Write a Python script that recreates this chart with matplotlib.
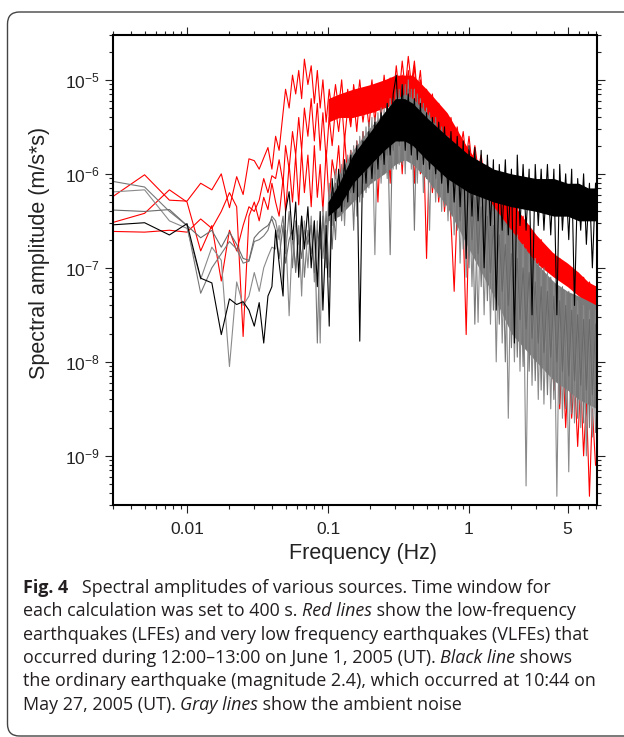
import numpy as np
import matplotlib
matplotlib.use("Agg")
import matplotlib.pyplot as plt
from matplotlib import font_manager
from matplotlib.patches import FancyBboxPatch
from matplotlib.transforms import IdentityTransform
from matplotlib.ticker import FixedLocator, FuncFormatter, NullFormatter

W, H = 624, 737

f_low = [0.0025, 0.005, 0.0075, 0.01, 0.0125, 0.015, 0.0175, 0.02,
         0.0225, 0.025, 0.0275, 0.03, 0.0325, 0.035, 0.0375, 0.04]
f_dense = [0.0425, 0.045, 0.048, 0.05, 0.053, 0.056, 0.059, 0.062, 0.065, 0.068,
           0.072, 0.076, 0.08, 0.084, 0.088, 0.092, 0.097, 0.102, 0.107, 0.113,
           0.119, 0.125, 0.131, 0.138, 0.145, 0.152, 0.16, 0.168, 0.177, 0.186,
           0.195, 0.205, 0.215, 0.226, 0.238, 0.25, 0.263, 0.276, 0.29, 0.305,
           0.32, 0.336, 0.353, 0.371, 0.39, 0.41, 0.43, 0.452, 0.475, 0.5,
           0.525, 0.55, 0.58, 0.61, 0.64, 0.67, 0.71, 0.745, 0.785, 0.825,
           0.865, 0.91, 0.955, 1.0, 1.05, 1.1, 1.16, 1.22, 1.28, 1.35,
           1.42, 1.49, 1.56, 1.64, 1.72, 1.81, 1.9, 2.0, 2.1, 2.2,
           2.3, 2.42, 2.54, 2.67, 2.8, 2.95, 3.1, 3.25, 3.4, 3.6,
           3.8, 4.0, 4.2, 4.4, 4.6, 4.85, 5.1, 5.35, 5.6, 5.9,
           6.2, 6.5, 6.8, 7.15, 7.5, 7.9]

# log10 spectral amplitude (m/s*s)
red1_low = [-6.32, -6.01, -6.28, -6.29, -6.10, -6.17, -6.00, -6.36,
            -6.03, -6.22, -5.84, -5.86, -5.95, -5.83, -5.72, -5.95]
red1 = [-5.60, -5.75, -5.35, -5.10, -5.30, -4.95, -5.15, -4.90, -5.20, -4.78,
        -5.05, -4.85, -5.25, -4.90, -5.30, -5.00, -5.45, -5.10, -5.35, -5.05,
        -5.30, -5.00, -5.40, -5.10, -5.45, -5.05, -5.30, -5.00, -5.35, -5.10,
        -5.25, -5.00, -5.35, -5.05, -5.30, -4.95, -5.25, -4.98, -5.20, -4.85,
        -5.15, -4.80, -5.10, -4.75, -5.05, -4.80, -5.15, -4.90, -5.30, -5.10,
        -5.40, -5.15, -5.45, -5.25, -5.55, -5.35, -5.60, -5.40, -5.65, -5.50,
        -5.75, -5.55, -5.85, -5.60, -5.90, -5.70, -5.95, -5.80, -6.05, -5.90,
        -6.15, -6.00, -6.25, -6.10, -6.30, -6.15, -6.40, -6.25, -6.50, -6.35,
        -6.60, -6.45, -6.70, -6.55, -6.80, -6.65, -6.85, -6.70, -6.90, -6.80,
        -6.95, -6.85, -7.00, -6.90, -7.05, -6.95, -7.10, -7.00, -7.15, -7.05,
        -7.20, -7.10, -7.25, -7.15, -7.30, -7.20]

red2_low = [-6.55, -6.42, -6.17, -6.30, -6.82, -6.55, -7.14, -6.60,
            -6.82, -6.55, -6.35, -6.40, -6.28, -6.05, -6.20, -6.02]
red2 = [-6.05, -5.85, -6.10, -5.70, -5.95, -5.55, -5.80, -5.40, -5.75, -5.30,
        -5.60, -5.20, -5.65, -5.25, -5.75, -5.35, -5.85, -5.40, -5.70, -5.30,
        -5.55, -5.25, -5.65, -5.30, -5.50, -5.20, -5.55, -5.15, -5.45, -5.20,
        -5.50, -5.15, -5.45, -5.10, -5.40, -5.05, -5.35, -5.00, -5.30, -5.05,
        -5.25, -4.95, -5.20, -4.90, -5.15, -4.85, -5.25, -5.00, -5.35, -5.20,
        -5.55, -5.30, -5.65, -5.40, -5.70, -5.50, -5.80, -5.60, -5.90, -5.70,
        -6.00, -5.80, -6.10, -5.90, -6.20, -6.00, -6.25, -6.10, -6.35, -6.20,
        -6.45, -6.30, -6.55, -6.35, -6.60, -6.40, -6.65, -6.45, -6.70, -6.55,
        -6.85, -6.70, -6.95, -6.80, -7.05, -6.90, -7.15, -7.00, -7.25, -7.10,
        -7.35, -7.20, -7.45, -7.30, -7.55, -7.40, -7.65, -7.50, -7.75, -7.60,
        -7.85, -7.70, -7.95, -7.80, -8.05, -7.90]

red3_low = [-6.61, -6.62, -6.60, -6.62, -6.48, -6.58, -6.40, -6.20,
            -6.35, -7.73, -6.45, -6.30, -6.50, -6.25, -6.38, -6.10]
red3 = [-6.30, -6.45, -6.05, -6.40, -5.90, -6.30, -5.80, -6.33, -5.75, -6.20,
        -5.80, -6.35, -5.70, -6.25, -5.90, -6.40, -5.75, -6.33, -5.85, -6.05,
        -5.70, -6.20, -5.60, -6.05, -5.75, -6.10, -5.65, -6.00, -5.55, -5.95,
        -5.70, -6.05, -5.60, -6.30, -5.55, -5.95, -5.50, -6.10, -5.40, -5.90,
        -5.45, -6.00, -5.35, -5.85, -5.40, -6.10, -5.45, -6.00, -5.60, -6.90,
        -5.75, -6.20, -5.85, -6.30, -5.90, -6.40, -6.00, -6.50, -7.25, -6.35,
        -6.20, -6.55, -7.71, -6.50, -6.35, -6.70, -6.40, -6.75, -6.50, -6.80,
        -6.60, -6.95, -6.70, -7.10, -6.50, -6.75, -6.60, -7.20, -6.80, -7.35,
        -7.00, -7.50, -7.10, -7.60, -7.20, -7.80, -7.30, -7.90, -7.45, -8.10,
        -7.60, -8.30, -7.75, -8.50, -7.85, -8.70, -8.00, -8.60, -8.15, -8.90,
        -8.20, -9.00, -8.40, -9.43, -8.50, -9.10]

gray1_low = [-6.06, -6.14, -6.40, -6.55, -7.27, -7.00, -6.85, -6.72,
             -6.80, -6.95, -6.93, -6.72, -6.70, -6.66, -6.60, -6.45]
gray1 = [-6.50, -6.70, -6.45, -6.85, -6.40, -7.00, -6.50, -6.75, -6.45, -7.10,
         -6.60, -6.85, -6.50, -7.80, -6.55, -6.90, -6.40, -7.10, -6.20, -6.70,
         -6.00, -6.50, -5.85, -6.35, -5.75, -6.60, -5.65, -6.30, -5.55, -6.20,
         -5.45, -6.10, -5.40, -6.05, -5.30, -6.00, -5.25, -6.86, -5.20, -5.95,
         -5.10, -5.90, -5.05, -5.85, -5.10, -6.60, -5.15, -5.95, -5.25, -6.05,
         -5.35, -6.15, -5.40, -6.25, -5.50, -6.35, -5.60, -6.45, -5.70, -6.60,
         -5.85, -6.80, -5.95, -7.00, -6.05, -7.60, -6.15, -7.20, -6.25, -7.35,
         -6.35, -7.45, -6.45, -7.60, -6.50, -8.00, -6.60, -7.85, -6.65, -7.95,
         -6.75, -8.05, -6.80, -8.10, -6.90, -8.20, -6.95, -8.30, -7.00, -8.35,
         -7.10, -8.40, -7.15, -8.45, -7.20, -8.50, -7.25, -8.55, -7.30, -8.60,
         -7.35, -8.65, -7.40, -8.70, -7.40, -8.75]

gray2_low = [-6.20, -6.17, -6.50, -6.58, -7.12, -6.78, -6.92, -8.05,
             -7.15, -7.40, -7.30, -7.05, -7.25, -7.00, -6.88, -6.78]
gray2 = [-6.80, -6.55, -7.20, -6.60, -7.51, -6.65, -7.00, -6.55, -7.30, -6.50,
         -7.00, -6.45, -7.15, -6.50, -7.80, -6.35, -6.85, -6.10, -6.55, -5.95,
         -6.40, -5.90, -6.55, -5.80, -6.30, -5.70, -6.45, -5.60, -6.25, -5.50,
         -6.15, -5.40, -6.86, -5.35, -6.10, -5.30, -6.05, -5.20, -5.95, -5.10,
         -5.90, -5.05, -6.00, -5.00, -5.95, -5.10, -6.10, -5.20, -6.20, -5.30,
         -6.60, -5.40, -6.30, -5.50, -6.40, -5.55, -6.50, -5.65, -6.65, -5.75,
         -6.95, -5.90, -7.10, -6.00, -7.20, -6.10, -7.58, -6.15, -7.50, -6.25,
         -7.60, -6.40, -8.00, -6.45, -7.80, -6.55, -8.60, -6.60, -8.00, -6.65,
         -8.10, -6.75, -9.32, -6.85, -8.25, -6.90, -8.40, -7.00, -8.45, -7.05,
         -8.50, -7.15, -9.43, -7.20, -8.60, -7.25, -9.17, -7.30, -8.65, -7.35,
         -8.70, -7.40, -9.00, -7.45, -8.80, -7.45]

gray3_low = [-6.38, -6.40, -6.38, -6.55, -6.68, -6.60, -6.78, -6.62,
             -6.75, -6.90, -6.92, -6.68, -6.62, -6.58, -6.55, -6.48]
gray3 = [-6.60, -6.90, -6.55, -6.95, -6.70, -6.60, -7.05, -6.65, -6.90, -6.60,
         -6.75, -6.55, -7.05, -6.60, -6.80, -6.45, -7.00, -6.30, -6.80, -6.10,
         -6.25, -6.00, -6.35, -5.95, -6.20, -5.85, -6.30, -5.75, -6.10, -5.65,
         -5.95, -5.60, -6.00, -5.50, -5.85, -5.45, -5.80, -5.40, -5.75, -5.25,
         -5.70, -5.20, -5.65, -5.10, -5.75, -5.20, -5.80, -5.35, -5.85, -5.45,
         -5.95, -5.55, -6.05, -5.65, -6.10, -5.75, -6.20, -5.85, -6.30, -5.95,
         -6.50, -6.05, -6.60, -6.15, -6.70, -6.25, -6.85, -6.35, -6.95, -6.45,
         -7.05, -6.55, -7.15, -6.65, -7.25, -6.75, -7.40, -6.85, -7.50, -6.90,
         -7.55, -7.00, -7.65, -7.05, -7.75, -7.15, -7.80, -7.20, -7.90, -7.25,
         -7.95, -7.30, -8.00, -7.35, -8.10, -7.40, -8.15, -7.45, -8.20, -7.50,
         -8.25, -7.55, -8.30, -7.55, -8.35, -7.60]

black_low = [-6.55, -6.52, -6.65, -6.53, -7.11, -7.16, -7.71, -7.33,
             -7.39, -7.36, -7.45, -7.62, -7.37, -7.80, -7.30, -7.20]
black = [-6.60, -6.95, -7.30, -6.40, -6.19, -6.70, -6.30, -7.10, -6.45, -6.80,
         -6.35, -7.00, -6.50, -7.20, -6.40, -7.45, -6.55, -7.62, -6.05, -6.50,
         -5.95, -6.40, -5.85, -6.30, -5.80, -6.20, -5.70, -7.78, -5.65, -6.10,
         -5.55, -6.05, -5.45, -5.95, -5.35, -5.90, -5.25, -5.80, -5.15, -4.95,
         -5.65, -5.05, -5.75, -5.15, -5.80, -5.20, -5.85, -5.25, -5.90, -5.35,
         -5.95, -5.40, -6.00, -5.45, -6.10, -5.50, -6.20, -5.55, -6.30, -5.60,
         -6.35, -5.65, -6.90, -5.70, -6.45, -5.72, -6.50, -5.75, -7.00, -5.80,
         -6.55, -5.85, -7.45, -5.90, -6.60, -5.85, -6.65, -5.95, -7.80, -5.80,
         -6.55, -5.90, -6.60, -5.95, -7.50, -5.90, -6.55, -5.95, -6.60, -5.90,
         -6.65, -5.95, -7.50, -5.90, -6.60, -6.00, -6.70, -5.95, -7.40, -6.05,
         -6.60, -6.00, -6.75, -6.10, -7.00, -6.10]

# core ranges (log10) where the dense spectra fill the plot solid
band_f = [0.1, 0.12, 0.15, 0.2, 0.25, 0.3, 0.35, 0.4, 0.5, 0.7,
          1.0, 1.5, 2.0, 3.0, 4.0, 5.0, 6.0, 7.0, 8.1]
gray_hi = [-6.25, -6.00, -5.75, -5.50, -5.35, -5.20, -5.15, -5.20, -5.35, -5.65,
           -5.95, -6.35, -6.60, -6.95, -7.15, -7.25, -7.30, -7.35, -7.40]
gray_lo = [-6.50, -6.45, -6.30, -6.10, -6.00, -5.90, -5.85, -5.90, -6.05, -6.35,
           -6.80, -7.30, -7.70, -8.00, -8.20, -8.30, -8.40, -8.45, -8.50]
black_hi = [-6.30, -6.10, -5.80, -5.55, -5.35, -5.20, -5.20, -5.25, -5.40, -5.60,
            -5.80, -5.95, -6.00, -6.05, -6.05, -6.10, -6.10, -6.15, -6.15]
black_lo = [-6.45, -6.35, -6.10, -5.90, -5.75, -5.65, -5.65, -5.70, -5.85, -6.05,
            -6.20, -6.30, -6.35, -6.40, -6.45, -6.45, -6.50, -6.50, -6.50]
red_hi = [-5.20, -5.15, -5.10, -5.05, -5.00, -4.95, -4.95, -4.95, -5.10, -5.35,
          -5.75, -6.10, -6.30, -6.65, -6.85, -6.95, -7.05, -7.15, -7.20]
red_lo = [-5.45, -5.40, -5.40, -5.35, -5.30, -5.25, -5.25, -5.25, -5.40, -5.70,
          -6.10, -6.45, -6.65, -6.95, -7.10, -7.20, -7.30, -7.40, -7.45]

caption_lines = [
    [("Fig. 4", "b"), ("   Spectral amplitudes of various sources. Time window for", "r")],
    [("each calculation was set to 400 s. ", "r"), ("Red lines", "i"),
     (" show the low-frequency", "r")],
    [("earthquakes (LFEs) and very low frequency earthquakes (VLFEs) that", "r")],
    [("occurred during 12:00\u201313:00 on June 1, 2005 (UT). ", "r"),
     ("Black line", "i"), (" shows", "r")],
    [("the ordinary earthquake (magnitude 2.4), which occurred at 10:44 on", "r")],
    [("May 27, 2005 (UT). ", "r"), ("Gray lines", "i"), (" show the ambient noise", "r")],
]

plt.rcParams['font.family'] = ['Liberation Sans', 'DejaVu Sans']

fig = plt.figure(figsize=(W / 100, H / 100), dpi=100)
ax = fig.add_axes([113.3 / W, 1 - 505 / H, 483.4 / W, 470 / H])

f_all = np.array(f_low + f_dense)


def spec(low, dense):
    return 10 ** np.array(low + dense)


def band(lo, hi, color, z):
    ax.fill_between(band_f, 10 ** np.array(lo), 10 ** np.array(hi),
                    color=color, lw=0, zorder=z)


band(red_lo, red_hi, '#ff0000', 2)
for low, dense in [(red1_low, red1), (red2_low, red2), (red3_low, red3)]:
    ax.plot(f_all, spec(low, dense), color='#ff0000', lw=0.8, zorder=2)
band(gray_lo, gray_hi, '#7a7a7a', 3)
for (low, dense), c in zip([(gray1_low, gray1), (gray2_low, gray2), (gray3_low, gray3)],
                           ['#777777', '#8a8a8a', '#6a6a6a']):
    ax.plot(f_all, spec(low, dense), color=c, lw=0.8, zorder=3)
band(black_lo, black_hi, '#000000', 4)
ax.plot(f_all, spec(black_low, black), color='#000000', lw=0.8, zorder=4)

ax.set_xscale('log')
ax.set_yscale('log')
ax.set_xlim(0.003, 8.05)
ax.set_ylim(3.0e-10, 3.0e-5)

ax.xaxis.set_major_locator(FixedLocator([0.01, 0.1, 1, 5]))
ax.xaxis.set_major_formatter(FuncFormatter(lambda v, p: {0.01: '0.01', 0.1: '0.1', 1: '1', 5: '5'}.get(v, '')))
xminor = [m * d for d in [0.001, 0.01, 0.1, 1] for m in range(2, 10) if m * d != 5]
ax.xaxis.set_minor_locator(FixedLocator(xminor))
ax.xaxis.set_minor_formatter(NullFormatter())

ax.yaxis.set_major_locator(FixedLocator([1e-9, 1e-8, 1e-7, 1e-6, 1e-5]))
ax.yaxis.set_major_formatter(FuncFormatter(lambda v, p: r'$\mathregular{10^{%d}}$' % round(np.log10(v))))
yminor = [m * 10.0 ** e for e in range(-10, -4) for m in range(2, 10)]
ax.yaxis.set_minor_locator(FixedLocator(yminor))
ax.yaxis.set_minor_formatter(NullFormatter())

ax.tick_params(which='both', direction='out', top=True, right=True, width=0.8, colors='#222222')
ax.tick_params(which='major', length=6, labelsize=12.5, labelcolor='#222222')
ax.tick_params(which='minor', length=3.2)
ax.tick_params(axis='x', which='major', pad=6)
ax.tick_params(axis='y', which='major', pad=3.5)
for s in ax.spines.values():
    s.set_linewidth(1.5)
    s.set_zorder(6)

ax.set_xlabel('Frequency (Hz)', fontsize=15.5, color='#222222')
ax.set_ylabel('Spectral amplitude (m/s*s)', fontsize=15.5, color='#222222')
ax.xaxis.set_label_coords(0.5165, -0.08)
ax.yaxis.set_label_coords(-0.131, 0.536)

# card frame round the figure
card = FancyBboxPatch((7.5, 1.0), 660, 724, boxstyle='round,pad=0,rounding_size=12',
                      transform=IdentityTransform(), fill=False, ec='#444444', lw=1.0)
fig.add_artist(card)

# caption
names = {(f.name, f.style) for f in font_manager.fontManager.ttflist}
cap_font = 'Open Sans' if ('Open Sans', 'italic') in names else 'Noto Sans'
renderer = fig.canvas.get_renderer()


def style_kw(st, size):
    return dict(fontsize=size, family=cap_font,
                fontweight='bold' if st == 'b' else 'normal',
                fontstyle='italic' if st == 'i' else 'normal')


def text_width(s, st, size):
    t1 = fig.text(0, 0, '|' + s + '|', **style_kw(st, size))
    t2 = fig.text(0, 0, '||', **style_kw(st, size))
    w = t1.get_window_extent(renderer).width - t2.get_window_extent(renderer).width
    t1.remove()
    t2.remove()
    return w


cap_size = 12 * 564 / text_width(caption_lines[2][0][0], 'r', 12)
baselines = [593, 616.3, 639.7, 663, 686.3, 709.7]
for parts, yb in zip(caption_lines, baselines):
    x = 22.7
    for s, st in parts:
        fig.text(x / W, 1 - yb / H, s, va='baseline', ha='left', color='#231f20',
                 **style_kw(st, cap_size))
        x += text_width(s, st, cap_size)

fig.savefig('out.png', dpi=100)
